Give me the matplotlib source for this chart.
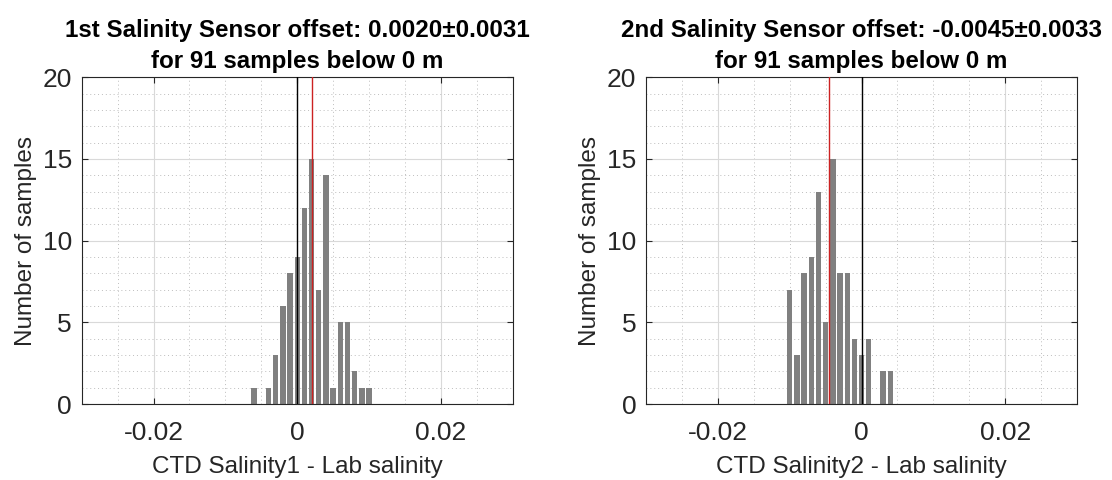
import matplotlib
matplotlib.use("Agg")
import matplotlib.pyplot as plt
from matplotlib.ticker import MultipleLocator, FixedLocator
import numpy as np

plt.rcParams['font.family'] = ['Liberation Sans', 'DejaVu Sans']

# Data
centers1 = [-0.006, -0.005, -0.004, -0.003, -0.002, -0.001, 0.000, 0.001, 0.002,
            0.003, 0.004, 0.005, 0.006, 0.007, 0.008, 0.009, 0.010]
counts1 = [1, 0, 1, 3, 6, 8, 9, 12, 15, 7, 14, 1, 5, 5, 2, 1, 1]
mean1 = 0.0020
std1 = 0.0031

centers2 = [-0.010, -0.009, -0.008, -0.007, -0.006, -0.005, -0.004, -0.003, -0.002,
            -0.001, 0.000, 0.001, 0.002, 0.003, 0.004]
counts2 = [7, 3, 8, 9, 13, 5, 15, 8, 8, 4, 3, 4, 0, 2, 2]
mean2 = -0.0045
std2 = 0.0033

n_samples = 91
title_line1 = ["1st Salinity Sensor offset: {:.4f}\u00b1{:.4f}".format(mean1, std1),
               "2nd Salinity Sensor offset: {:.4f}\u00b1{:.4f}".format(mean2, std2)]
title_line2 = "for {} samples below 0 m".format(n_samples)
xlabels = ["CTD Salinity1 - Lab salinity", "CTD Salinity2 - Lab salinity"]
ylabel = "Number of samples"
xticks = [-0.02, 0, 0.02]
xticklabels = ["-0.02", "0", "0.02"]
yticks = [0, 5, 10, 15, 20]

fig = plt.figure(figsize=(11.12, 4.8), dpi=100)
ax1 = fig.add_axes([0.0735, 0.158, 0.3876, 0.681])
ax2 = fig.add_axes([0.581, 0.158, 0.3876, 0.681])

txt = '#262626'
for ax, c, n, m, t1, xl in [(ax1, centers1, counts1, mean1, title_line1[0], xlabels[0]),
                             (ax2, centers2, counts2, mean2, title_line1[1], xlabels[1])]:
    ax.set_axisbelow(True)
    ax.bar(c, n, width=0.00075, color='#808080', edgecolor='none', zorder=2)
    ax.axvline(0, color='black', lw=1.0, zorder=3)
    ax.axvline(m, color='#cc2222', lw=1.0, zorder=3)
    ax.set_xlim(-0.03, 0.03)
    ax.set_ylim(0, 20)
    ax.xaxis.set_major_locator(FixedLocator(xticks))
    ax.set_xticklabels(xticklabels)
    ax.yaxis.set_major_locator(FixedLocator(yticks))
    ax.xaxis.set_minor_locator(MultipleLocator(0.005))
    ax.yaxis.set_minor_locator(MultipleLocator(1))
    ax.grid(which='major', color='#d9d9d9', lw=0.8, ls='-')
    ax.grid(which='minor', color='#bdbdbd', lw=0.7, ls=(0, (1, 3)))
    ax.tick_params(which='both', direction='in', top=True, right=True, colors=txt,
                   labelsize=19, labelcolor=txt)
    ax.tick_params(which='major', length=4, width=0.8)
    ax.tick_params(axis='x', which='major', pad=12)
    ax.tick_params(axis='y', which='major', pad=7)
    ax.tick_params(which='minor', length=0)
    for s in ax.spines.values():
        s.set_color(txt)
        s.set_linewidth(0.8)
    ax.annotate(t1, xy=(0.5, 1.0), xycoords='axes fraction', xytext=(0, 29.2),
                textcoords='offset points', ha='center', va='baseline',
                fontsize=17.4, fontweight='bold', color='black')
    ax.annotate(title_line2, xy=(0.5, 1.0), xycoords='axes fraction', xytext=(0, 6.5),
                textcoords='offset points', ha='center', va='baseline',
                fontsize=17.4, fontweight='bold', color='black')
    ax.set_xlabel(xl, fontsize=17.5, color=txt, labelpad=8)
    ax.set_ylabel(ylabel, fontsize=17.5, color=txt, labelpad=4)

fig.savefig("out.png", dpi=100)
